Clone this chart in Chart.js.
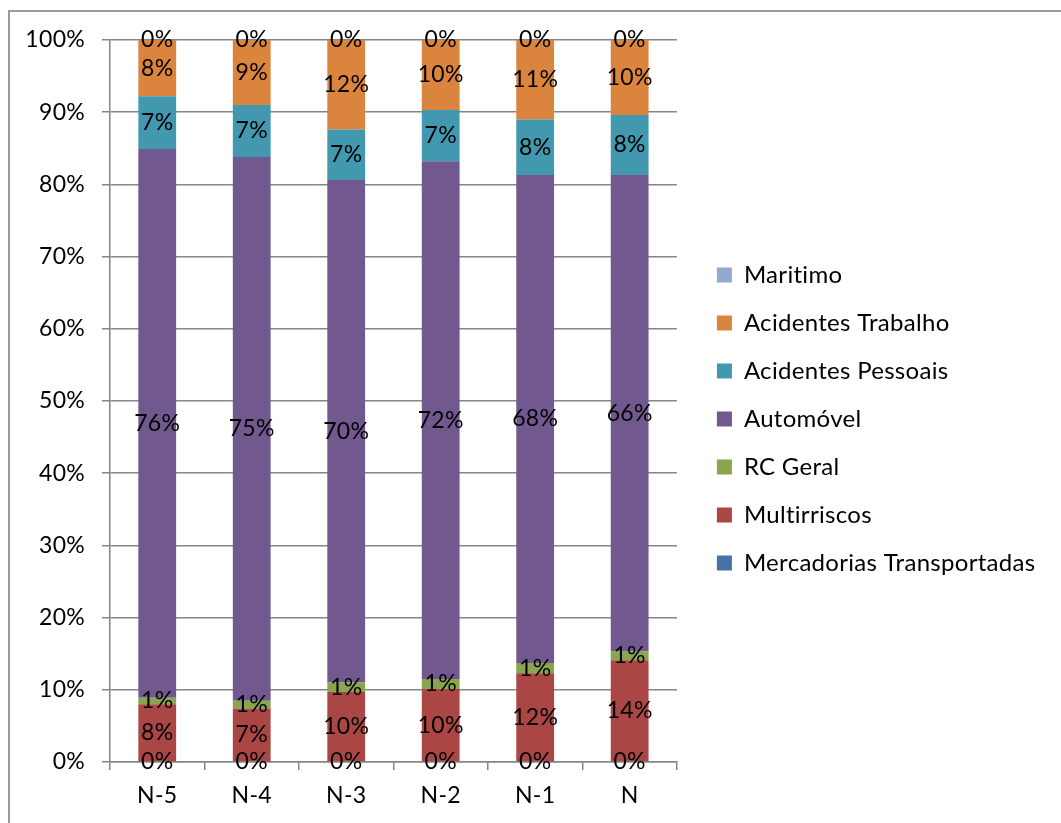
<!DOCTYPE html>
<html>
<head>
<meta charset="utf-8">
<title>Ramos por ano</title>
<script src="https://cdn.jsdelivr.net/npm/chart.js@4.4.0/dist/chart.umd.min.js"></script>
<style>
    body { margin: 0; background: #fff; overflow: hidden; }
    #frame { position: absolute; left: 8px; top: 10px; width: 1100px; height: 900px; border: 2px solid #9a9a9a; }
    #wrap { position: absolute; left: 0; top: 0; width: 1061px; height: 823px; }
</style>
</head>
<body>
<div id="frame"></div>
<div id="wrap"><canvas id="myChart" width="1061" height="823"></canvas></div>
<script>
var anos = ['N-5', 'N-4', 'N-3', 'N-2', 'N-1', 'N'];

// share of each line of business per year (%), bottom of the stack first
var mercadorias = [0, 0, 0, 0, 0, 0];
var multirriscos = [8.0, 7.4, 9.7, 10.1, 12.3, 14.1];
var rcGeral = [0.9, 1.1, 1.3, 1.4, 1.4, 1.2];
var automovel = [76.0, 75.3, 69.6, 71.7, 67.6, 66.0];
var pessoais = [7.3, 7.2, 7.0, 7.1, 7.7, 8.3];
var trabalho = [7.8, 9.0, 12.4, 9.7, 11.0, 10.4];
var maritimo = [0, 0, 0, 0, 0, 0];

var yMax = 100;
var yStep = 10;

var gridColor = '#868686';
var fontFamily = 'Lato, "Open Sans", sans-serif';

// a touch of letter spacing also stops Lato from joining "ti"
var noLigatures = {
    id: 'noLigatures',
    beforeDraw: function (chart) {
        chart.ctx.letterSpacing = '0.3px';
    }
};

// draws the rounded % in the middle of every segment
var valueLabels = {
    id: 'valueLabels',
    afterDatasetsDraw: function (chart) {
        var ctx = chart.ctx;
        ctx.save();
        ctx.font = '23px ' + fontFamily;
        ctx.fillStyle = '#000';
        ctx.textAlign = 'center';
        ctx.textBaseline = 'middle';
        chart.data.datasets.forEach(function (ds, i) {
            var meta = chart.getDatasetMeta(i);
            meta.data.forEach(function (bar, j) {
                var y = (bar.y + bar.base) / 2;
                ctx.fillText(Math.round(ds.data[j]) + '%', bar.x, y);
            });
        });
        ctx.restore();
    }
};

function serie(label, data, color) {
    return {
        label: label,
        data: data,
        backgroundColor: color,
        borderWidth: 0,
        barPercentage: 0.4,
        categoryPercentage: 1
    };
}

var ctx = document.getElementById('myChart').getContext('2d');
ctx.letterSpacing = '0.3px';
var myChart = new Chart(ctx, {
    type: 'bar',
    data: {
        labels: anos,
        datasets: [
            serie('Mercadorias Transportadas', mercadorias, '#4572A7'),
            serie('Multirriscos', multirriscos, '#AA4643'),
            serie('RC Geral', rcGeral, '#89A54E'),
            serie('Automóvel', automovel, '#71588F'),
            serie('Acidentes Pessoais', pessoais, '#4198AF'),
            serie('Acidentes Trabalho', trabalho, '#DB843D'),
            serie('Maritimo', maritimo, '#93A9CF')
        ]
    },
    options: {
        responsive: false,
        animation: false,
        layout: {
            padding: { top: 40, left: 0, bottom: 0, right: 23 }
        },
        plugins: {
            tooltip: { enabled: false },
            legend: {
                position: 'right',
                fullSize: false,
                reverse: true,
                align: 'center',
                maxWidth: 400,
                title: { display: true, text: '', padding: 6, font: { size: 20 } },
                labels: {
                    boxWidth: 15,
                    boxHeight: 15,
                    padding: 24,
                    color: '#000',
                    font: { family: fontFamily, size: 24 }
                }
            }
        },
        scales: {
            x: {
                stacked: true,
                grid: {
                    display: true,
                    drawOnChartArea: false,
                    drawTicks: true,
                    tickLength: 8,
                    offset: true,
                    color: gridColor,
                    lineWidth: 1.5
                },
                border: { color: gridColor, width: 1.5 },
                ticks: {
                    color: '#000',
                    padding: 12,
                    font: { family: fontFamily, size: 23 }
                },
                afterFit: function (s) { s.height = 61; }
            },
            y: {
                stacked: true,
                min: 0,
                max: yMax,
                grid: {
                    color: gridColor,
                    lineWidth: 1.5,
                    tickLength: 8
                },
                border: { color: gridColor, width: 1.5 },
                ticks: {
                    stepSize: yStep,
                    color: '#000',
                    padding: 17,
                    font: { family: fontFamily, size: 23 },
                    callback: function (v) { return v + '%'; }
                },
                afterFit: function (s) { s.width = 110; }
            },
            // empty axis, only keeps a gap between the bars and the legend
            y2: {
                type: 'linear',
                position: 'right',
                display: true,
                grid: { display: false },
                border: { display: false },
                ticks: { display: false },
                afterFit: function (s) { s.width = 16; }
            }
        }
    },
    plugins: [noLigatures, valueLabels]
});
</script>
</body>
</html>
